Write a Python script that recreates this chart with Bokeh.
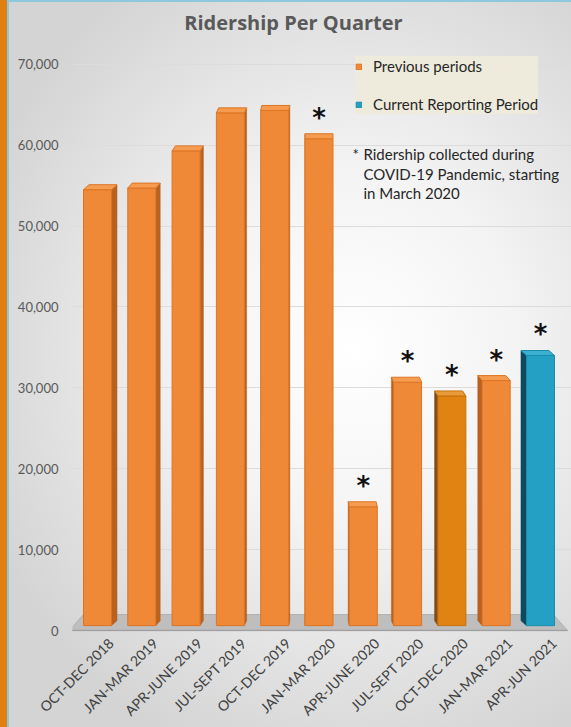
from math import pi
from bokeh.plotting import figure
from bokeh.models import (Range1d, FixedTicker, NumeralTickFormatter, ColumnDataSource,
                          Legend, LegendItem, Label)
from bokeh.core.properties import value
from bokeh.embed import file_html
from bokeh.resources import INLINE

# ---------------- data ----------------
categories = ["OCT-DEC 2018", "JAN-MAR 2019", "APR-JUNE 2019", "JUL-SEPT 2019",
              "OCT-DEC 2019", "JAN-MAR 2020", "APR-JUNE 2020", "JUL-SEPT 2020",
              "OCT-DEC 2020", "JAN-MAR 2021", "APR-JUN 2021"]
ridership = [54500, 54700, 59300, 64000, 64300, 60800, 15300, 30700, 29000, 30900, 34000]
covid_period = [False, False, False, False, False, True, True, True, True, True, True]
period_type = ["Previous periods"] * 10 + ["Current Reporting Period"]
y_ticks = [0, 10000, 20000, 30000, 40000, 50000, 60000, 70000]
title_text = "Ridership Per Quarter"
footnote_lines = ["Ridership collected during", "COVID-19 Pandemic, starting", "in March 2020"]

# ---------------- styles ----------------
front_colors = ["#EF8938"] * 8 + ["#E08312", "#EF8938", "#23A0C4"]
side_colors = ["#B9621F"] * 8 + ["#7E4E14", "#B9621F", "#0E4A5E"]
top_colors = ["#F59C50"] * 8 + ["#E99A3A", "#F59C50", "#3BB0D0"]
edge_colors = ["#DD7424"] * 8 + ["#C8700C", "#DD7424", "#1B8BAA"]
FONT = "Lato"

n = len(categories)
xc = [i + 0.5 for i in range(n)]
label_shift = 0.3   # rotated category labels sit a little right of the bar centre
half_w = 0.316
base = 600          # bars sit slightly behind the floor's front edge
depth_y = 616       # vertical depth of top faces (data units)
persp = 0.025       # horizontal perspective per category step

p = figure(width=571, height=727,
           x_range=Range1d(-0.064, 11.2), y_range=Range1d(-123, 77890),
           output_backend="svg", toolbar_location=None,
           min_border_left=72, min_border_right=0, min_border_top=0, min_border_bottom=94)
p.border_fill_color = None
p.background_fill_color = None
p.outline_line_color = None
p.styles = {"background": ("linear-gradient(to right, #E07F12 0px, #E07F12 7px, #8DC9DC 7px, "
                           "#8DC9DC 9px, rgba(0,0,0,0) 9px), "
                           "linear-gradient(to bottom, #8DC9DC 0px, #8DC9DC 2px, rgba(0,0,0,0) 2px), "
                           "radial-gradient(ellipse 70% 60% at 62% 48%, #FFFFFF 0%, #F4F4F4 40%, "
                           "#D4D4D4 100%)")}

# grid
p.xgrid.grid_line_color = None
p.ygrid.ticker = FixedTicker(ticks=y_ticks)
p.ygrid.grid_line_color = "#DCDCDC"
p.ygrid.grid_line_width = 1

# floor
p.patch(x=[-0.13, 11.11, 10.79, 0.18], y=[0, 0, 1970, 1970],
        fill_color="#BEBEBE", line_color="#B0B0B0", line_width=1)

# side and top faces
side_xs, side_ys, top_xs, top_ys = [], [], [], []
for i in range(n):
    xl, xr = xc[i] - half_w, xc[i] + half_w
    dx = persp * (5 - i)
    top = ridership[i]
    ex = xr if dx > 0 else xl
    side_xs.append([ex, ex, ex + dx, ex + dx])
    side_ys.append([base, top, top + depth_y, base + depth_y])
    top_xs.append([xl, xr, xr + dx, xl + dx])
    top_ys.append([top, top, top + depth_y, top + depth_y])

p.patches(xs=side_xs, ys=side_ys, fill_color=side_colors, line_color=side_colors, line_width=0.5)

src = dict(x=xc, top=ridership, color=front_colors, edge=edge_colors, ptype=period_type)
prev_idx = [i for i in range(n) if period_type[i] == "Previous periods"]
cur_idx = [i for i in range(n) if period_type[i] != "Previous periods"]
src_prev = ColumnDataSource({k: [v[i] for i in prev_idx] for k, v in src.items()})
src_cur = ColumnDataSource({k: [v[i] for i in cur_idx] for k, v in src.items()})

r_prev = p.vbar(x="x", top="top", bottom=base, width=2 * half_w, source=src_prev,
                fill_color="color", line_color="edge", line_width=1)
r_cur = p.vbar(x="x", top="top", bottom=base, width=2 * half_w, source=src_cur,
               fill_color="color", line_color="edge", line_width=1)

p.patches(xs=top_xs, ys=top_ys, fill_color=top_colors, line_color=edge_colors, line_width=1)

# asterisks over pandemic-period bars
ast_x = [xc[i] for i in range(n) if covid_period[i]]
ast_y = [ridership[i] + 2600 for i in range(n) if covid_period[i]]
p.text(x=ast_x, y=ast_y, text=["*"] * len(ast_x), text_align="center", text_baseline="middle",
       text_font=value("DejaVu Sans"), text_font_style="bold", text_font_size="26px",
       text_color="#111111")

# axes
p.yaxis.ticker = FixedTicker(ticks=y_ticks)
p.yaxis.formatter = NumeralTickFormatter(format="0,0")
p.yaxis.major_tick_line_color = None
p.yaxis.minor_tick_line_color = None
p.yaxis.axis_line_color = None
p.yaxis.major_tick_out = 0
p.yaxis.major_label_standoff = 14
p.yaxis.major_label_text_font = FONT
p.yaxis.major_label_text_font_size = "13px"
p.yaxis.major_label_text_color = "#595959"

label_ticks = [x + label_shift for x in xc]
p.xaxis.ticker = FixedTicker(ticks=label_ticks)
p.xaxis.major_label_overrides = {label_ticks[i]: categories[i] for i in range(n)}
p.xaxis.major_label_orientation = pi / 4
p.xaxis.major_tick_line_color = None
p.xaxis.minor_tick_line_color = None
p.xaxis.major_tick_out = 0
p.xaxis.axis_line_color = None
p.xaxis.major_label_standoff = 9
p.xaxis.major_label_text_font = FONT
p.xaxis.major_label_text_font_size = "14px"
p.xaxis.major_label_text_color = "#404040"

# front edge of the floor
p.line(x=[-0.13, 11.11], y=[0, 0], line_color="#A0A0A0", line_width=1.5)

# title
p.add_layout(Label(x=4.924, y=75179, text=title_text, text_align="center", text_baseline="middle",
                   text_font="Open Sans", text_font_style="bold", text_font_size="20px",
                   text_color="#595959"))

# legend
legend = Legend(items=[LegendItem(label="Previous periods", renderers=[r_prev], index=0),
                       LegendItem(label="Current Reporting Period", renderers=[r_cur], index=0)],
                location=(283, 517), orientation="vertical",
                glyph_width=7, glyph_height=7, label_height=20, spacing=18,
                padding=12, margin=0, label_standoff=11,
                background_fill_color="#EEEBDD", background_fill_alpha=1,
                border_line_color=None,
                label_text_font=FONT, label_text_font_size="15px", label_text_color="#262626")
p.add_layout(legend)

# footnote
p.add_layout(Label(x=6.256, y=58910, text="*", text_align="left", text_baseline="middle",
                   text_font=FONT, text_font_size="15px", text_color="#262626"))
for k, yy in enumerate([58910, 56446, 54104]):
    p.add_layout(Label(x=6.504, y=yy, text=footnote_lines[k], text_align="left",
                       text_baseline="middle", text_font=FONT, text_font_size="15px",
                       text_color="#262626"))

open("out.html", "w").write(file_html(p, INLINE))
